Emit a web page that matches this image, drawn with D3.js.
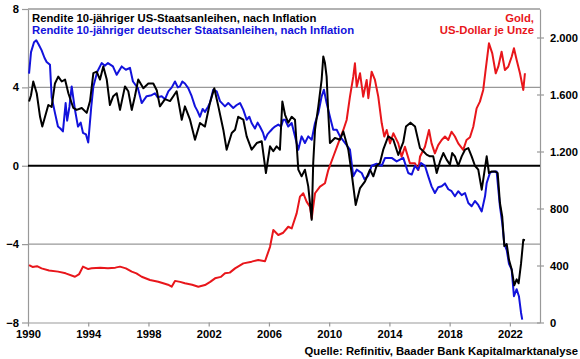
<!DOCTYPE html>
<html>
<head>
<meta charset="utf-8">
<script src="https://cdn.jsdelivr.net/npm/d3@7/dist/d3.min.js"></script>
<style>
  body { margin: 0; background: #fff; }
  svg { display: block; font-family: 'Liberation Sans', Arial, sans-serif; }
  .axis text { font-size: 11.2px; font-weight: bold; fill: #000; }
  .axis path, .axis line { stroke: #999; stroke-width: 1.2; }
  .label { font-size: 11.3px; font-weight: bold; }
</style>
</head>
<body>
<svg width="580" height="359"></svg>
<script>
// real yield 10y US treasuries after inflation, [year, %]
var usReal = [[1990.07,3.28],[1990.2,3.6],[1990.35,4.3],[1990.58,3.7],[1990.8,2.5],[1990.95,2.0],[1991.13,2.5],[1991.35,3.1],[1991.57,3.0],[1991.79,4.2],[1992.01,4.55],[1992.24,4.3],[1992.46,4.4],[1992.68,3.7],[1993.01,2.95],[1993.23,2.85],[1993.57,2.95],[1993.9,2.7],[1994.12,3.3],[1994.34,4.73],[1994.56,4.8],[1994.78,4.4],[1995.0,5.07],[1995.23,4.4],[1995.44,3.1],[1995.66,3.55],[1995.89,3.7],[1996.11,2.85],[1996.44,4.05],[1996.66,3.8],[1996.89,2.85],[1997.1,3.55],[1997.32,4.4],[1997.66,3.96],[1997.99,4.2],[1998.32,4.2],[1998.55,3.85],[1998.76,3.03],[1999.1,3.4],[1999.43,3.3],[1999.65,3.55],[1999.87,3.8],[2000.21,2.35],[2000.42,3.03],[2000.76,2.35],[2001.09,1.33],[2001.42,2.18],[2001.75,2.0],[2002.08,3.2],[2002.37,3.96],[2002.64,3.03],[2002.97,1.84],[2003.19,0.82],[2003.53,1.67],[2003.75,1.84],[2003.96,2.5],[2004.3,2.35],[2004.52,1.5],[2004.85,0.82],[2005.19,1.16],[2005.52,1.25],[2005.8,-0.37],[2006.07,0.99],[2006.29,0.74],[2006.51,0.99],[2006.73,0.82],[2006.89,3.28],[2007.07,2.6],[2007.28,2.2],[2007.51,2.5],[2007.73,2.35],[2007.95,-0.2],[2008.17,-0.54],[2008.39,-0.2],[2008.61,-1.05],[2008.84,-2.76],[2008.94,0.14],[2009.06,1.84],[2009.28,3.03],[2009.5,4.4],[2009.61,5.58],[2009.72,5.24],[2009.83,4.55],[2009.94,2.69],[2010.05,1.16],[2010.38,1.42],[2010.72,1.33],[2010.94,1.75],[2011.27,0.82],[2011.49,-0.37],[2011.76,-2.0],[2012.05,-1.14],[2012.38,-0.8],[2012.71,-0.2],[2012.93,-0.54],[2013.15,0.0],[2013.37,0.14],[2013.59,0.82],[2013.92,1.5],[2014.26,1.33],[2014.59,0.55],[2014.92,1.2],[2015.1,2.0],[2015.4,2.2],[2015.7,2.0],[2016.03,0.9],[2016.25,0.74],[2016.47,0.57],[2016.69,0.48],[2016.91,0.48],[2017.14,-0.37],[2017.36,0.22],[2017.58,0.65],[2017.8,0.31],[2018.02,0.06],[2018.17,0.65],[2018.35,0.48],[2018.57,0.0],[2018.8,0.48],[2019.02,0.82],[2019.24,0.9],[2019.46,0.48],[2019.68,0.0],[2019.9,-0.2],[2020.13,-1.22],[2020.23,-0.71],[2020.46,0.48],[2020.61,-0.37],[2020.79,-0.29],[2021.01,-0.29],[2021.19,-0.37],[2021.34,-1.9],[2021.49,-2.58],[2021.63,-4.1],[2021.79,-4.0],[2021.94,-4.8],[2022.12,-5.3],[2022.29,-6.1],[2022.45,-5.8],[2022.58,-6.0],[2022.74,-5.0],[2022.89,-3.78],[2023.0,-3.8]];

// real yield 10y German Bunds after inflation, [year, %]
var deReal = [[1990.07,4.7],[1990.2,5.8],[1990.4,6.3],[1990.55,6.4],[1990.7,6.2],[1990.9,5.9],[1991.1,5.5],[1991.24,5.3],[1991.46,5.15],[1991.57,3.5],[1991.79,2.7],[1991.99,2.0],[1992.15,1.9],[1992.32,1.75],[1992.5,3.2],[1992.6,2.3],[1992.75,3.0],[1992.9,4.05],[1993.12,2.85],[1993.32,2.0],[1993.5,2.2],[1993.65,1.68],[1993.85,1.6],[1994.0,1.19],[1994.2,3.0],[1994.34,4.05],[1994.6,4.8],[1994.89,5.24],[1995.1,5.1],[1995.31,5.24],[1995.64,5.07],[1995.89,4.64],[1996.22,5.07],[1996.5,4.9],[1996.77,5.0],[1996.97,4.3],[1997.3,3.96],[1997.55,3.2],[1997.88,3.55],[1998.21,3.6],[1998.43,3.7],[1998.6,3.5],[1998.88,3.55],[1999.1,3.4],[1999.32,3.8],[1999.55,4.0],[1999.76,4.3],[1999.95,4.0],[2000.09,4.05],[2000.25,4.3],[2000.42,4.2],[2000.64,3.96],[2000.87,3.55],[2001.09,3.03],[2001.25,2.8],[2001.42,2.5],[2001.6,2.9],[2001.75,2.75],[2001.95,3.0],[2002.08,3.2],[2002.3,3.88],[2002.53,3.8],[2002.75,3.3],[2003.08,3.03],[2003.3,3.2],[2003.63,2.95],[2003.86,3.1],[2004.08,3.2],[2004.3,2.85],[2004.52,2.35],[2004.7,2.5],[2004.85,2.18],[2005.07,1.9],[2005.25,2.2],[2005.4,2.0],[2005.6,1.7],[2005.74,1.33],[2005.9,1.6],[2006.07,1.75],[2006.25,1.9],[2006.4,2.0],[2006.62,2.1],[2006.8,2.0],[2006.95,2.35],[2007.07,2.35],[2007.28,2.0],[2007.51,2.18],[2007.7,1.6],[2007.95,0.82],[2008.17,1.5],[2008.39,1.16],[2008.61,1.5],[2008.84,1.33],[2009.06,2.18],[2009.28,2.69],[2009.5,3.54],[2009.65,3.88],[2009.83,3.2],[2010.05,2.5],[2010.27,1.84],[2010.5,1.84],[2010.72,1.5],[2011.05,1.16],[2011.38,0.82],[2011.6,-0.54],[2011.83,-0.2],[2012.16,-0.37],[2012.35,-0.7],[2012.6,-0.5],[2012.82,0.0],[2013.15,0.1],[2013.49,0.0],[2013.71,0.4],[2014.15,0.4],[2014.48,0.22],[2014.92,0.4],[2015.25,-0.37],[2015.48,-0.45],[2015.7,0.0],[2015.9,-0.2],[2016.1,0.14],[2016.36,0.0],[2016.58,-0.54],[2016.8,-1.05],[2017.02,-1.39],[2017.24,-1.1],[2017.47,-1.05],[2017.69,-0.9],[2017.91,-1.2],[2018.13,-1.3],[2018.35,-1.56],[2018.57,-1.3],[2018.8,-1.5],[2019.02,-1.39],[2019.24,-1.9],[2019.46,-2.07],[2019.68,-1.8],[2019.9,-2.0],[2020.13,-2.33],[2020.35,-1.56],[2020.46,-0.88],[2020.68,-0.35],[2020.9,-0.3],[2021.12,-0.29],[2021.34,-2.07],[2021.49,-2.9],[2021.63,-4.0],[2021.79,-4.3],[2021.94,-5.0],[2022.12,-5.3],[2022.27,-6.66],[2022.45,-6.3],[2022.6,-6.66],[2022.74,-7.5],[2022.82,-7.85]];

// gold, US dollar per ounce, [year, USD]
var gold = [[1990.07,403],[1990.3,390],[1990.6,395],[1990.9,380],[1991.4,365],[1992.0,357],[1992.5,345],[1993.12,321],[1993.4,340],[1993.65,392],[1994.0,375],[1994.23,380],[1994.8,385],[1995.31,380],[1995.8,385],[1996.11,392],[1996.5,380],[1996.89,357],[1997.2,345],[1997.55,321],[1998.1,298],[1998.65,286],[1998.98,275],[1999.3,265],[1999.54,251],[1999.76,292],[2000.1,285],[2000.42,275],[2000.9,265],[2001.31,251],[2001.75,263],[2002.1,285],[2002.42,310],[2002.8,320],[2003.08,345],[2003.4,350],[2003.75,380],[2004.3,415],[2004.85,427],[2005.29,439],[2005.74,430],[2006.07,530],[2006.29,649],[2006.62,614],[2006.95,630],[2007.28,672],[2007.51,660],[2007.84,766],[2008.06,883],[2008.28,907],[2008.5,848],[2008.72,813],[2008.84,731],[2009.06,907],[2009.39,953],[2009.72,977],[2009.94,1070],[2010.27,1163],[2010.6,1257],[2010.94,1351],[2011.16,1421],[2011.38,1585],[2011.6,1725],[2011.71,1819],[2011.83,1655],[2012.05,1749],[2012.26,1585],[2012.49,1702],[2012.6,1574],[2012.82,1760],[2013.04,1702],[2013.26,1585],[2013.49,1398],[2013.66,1305],[2013.82,1351],[2014.04,1257],[2014.26,1328],[2014.59,1257],[2014.81,1163],[2015.03,1233],[2015.36,1117],[2015.7,1117],[2015.92,1070],[2016.03,1163],[2016.36,1233],[2016.63,1351],[2016.8,1257],[2017.02,1187],[2017.24,1245],[2017.47,1281],[2017.69,1305],[2017.91,1281],[2018.13,1339],[2018.35,1305],[2018.57,1257],[2018.9,1211],[2019.12,1281],[2019.35,1300],[2019.57,1374],[2019.79,1503],[2020.01,1550],[2020.23,1632],[2020.39,1772],[2020.61,1959],[2020.83,1889],[2021.06,1749],[2021.23,1795],[2021.45,1900],[2021.67,1772],[2021.89,1795],[2022.12,1865],[2022.27,1924],[2022.45,1842],[2022.67,1749],[2022.89,1632],[2023.0,1749]];

var yearTicks = [1990, 1994, 1998, 2002, 2006, 2010, 2014, 2018, 2022];
var leftTicks = [-8, -4, 0, 4, 8];
var goldTicks = [0, 400, 800, 1200, 1600, 2000];
var gridValues = [8, 4, -4];

let drawChart = () => {
    var svg = d3.select('svg');
    var left = 28, right = 540, top = 9, bottom = 322.5;

    var xScale = d3.scaleLinear().domain([1990, 2024]).range([left, right]);
    var yLeft = d3.scaleLinear().domain([-8, 8]).range([bottom, top]);
    var yRight = d3.scaleLinear().domain([0, 2200]).range([bottom, top]);

    var de = d3.formatLocale({decimal: ',', thousands: '.', grouping: [3], currency: ['', '']}).format(',');

    svg.append('rect').attr('width', 580).attr('height', 359).attr('fill', '#fff');

    // grey gridlines at 8, 4, -4
    svg.append('g')
        .selectAll('line')
        .data(gridValues)
        .enter()
        .append('line')
            .attr('x1', left)
            .attr('x2', right)
            .attr('y1', d => yLeft(d))
            .attr('y2', d => yLeft(d))
            .attr('stroke', '#999')
            .attr('stroke-width', 1.3);

    svg.append('g')
        .attr('class', 'x axis')
        .attr('transform', 'translate(0,' + bottom + ')')
        .call(d3.axisBottom(xScale).tickValues(yearTicks).tickFormat(d3.format('d')).tickSize(4).tickPadding(4).tickSizeOuter(0));

    svg.append('g')
        .attr('class', 'y axis')
        .attr('transform', 'translate(' + left + ',0)')
        .call(d3.axisLeft(yLeft).tickValues(leftTicks).tickSize(6).tickPadding(3).tickSizeOuter(0));

    var rightAxis = svg.append('g')
        .attr('class', 'y axis')
        .attr('transform', 'translate(' + right + ',0)')
        .call(d3.axisRight(yRight).tickValues(goldTicks).tickFormat(de).tickSize(4).tickPadding(6).tickSizeOuter(0));
    rightAxis.selectAll('.tick line').attr('x1', -3);

    // zero line
    svg.append('line')
        .attr('x1', left)
        .attr('x2', right)
        .attr('y1', yLeft(0))
        .attr('y2', yLeft(0))
        .attr('stroke', '#000')
        .attr('stroke-width', 2);

    var lineLeft = d3.line().x(d => xScale(d[0])).y(d => yLeft(d[1]));
    var lineRight = d3.line().x(d => xScale(d[0])).y(d => yRight(d[1]));

    svg.append('path')
        .datum(gold)
        .attr('d', lineRight)
        .attr('fill', 'none')
        .attr('stroke', '#e8161b')
        .attr('stroke-width', 2)
        .attr('stroke-linejoin', 'round');

    svg.append('path')
        .datum(deReal)
        .attr('d', lineLeft)
        .attr('fill', 'none')
        .attr('stroke', '#1212dc')
        .attr('stroke-width', 2)
        .attr('stroke-linejoin', 'round');

    svg.append('path')
        .datum(usReal)
        .attr('d', lineLeft)
        .attr('fill', 'none')
        .attr('stroke', '#000')
        .attr('stroke-width', 2)
        .attr('stroke-linejoin', 'round');

    // legend texts
    svg.append('text')
        .attr('class', 'label')
        .attr('x', 32).attr('y', 22)
        .attr('fill', '#000')
        .text('Rendite 10-jähriger US-Staatsanleihen, nach Inflation');

    svg.append('text')
        .attr('class', 'label')
        .attr('x', 32).attr('y', 34)
        .attr('fill', '#1212dc')
        .text('Rendite 10-jähriger deutscher Staatsanleihen, nach Inflation');

    svg.append('text')
        .attr('class', 'label')
        .attr('x', 534).attr('y', 22)
        .attr('text-anchor', 'end')
        .attr('fill', '#e8161b')
        .text('Gold,');

    svg.append('text')
        .attr('class', 'label')
        .attr('x', 534).attr('y', 34)
        .attr('text-anchor', 'end')
        .attr('fill', '#e8161b')
        .text('US-Dollar je Unze');

    svg.append('text')
        .attr('class', 'label')
        .attr('x', 578).attr('y', 355)
        .attr('text-anchor', 'end')
        .attr('fill', '#000')
        .text('Quelle: Refinitiv, Baader Bank Kapitalmarktanalyse');
}

drawChart();
</script>
</body>
</html>
